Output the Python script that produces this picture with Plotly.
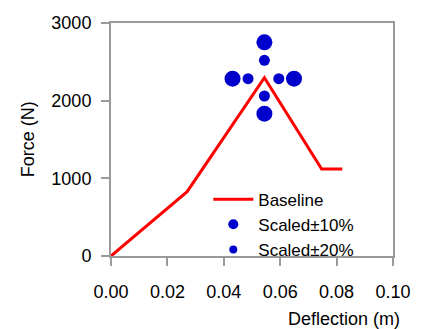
import plotly.graph_objects as go

# Baseline curve
base_x = [0.0, 0.027, 0.0544, 0.0747, 0.082]
base_y = [0, 828, 2295, 1120, 1120]

# Scaled ±10% points
s10_x = [0.0544, 0.0544, 0.0486, 0.0595]
s10_y = [2520, 2060, 2283, 2283]

# Scaled ±20% points
s20_x = [0.0544, 0.0544, 0.0431, 0.0649]
s20_y = [2751, 1832, 2283, 2283]

x_ticks = [0.00, 0.02, 0.04, 0.06, 0.08, 0.10]
y_ticks = [0, 1000, 2000, 3000]

FONT = "Liberation Sans, Arial, sans-serif"
BLUE = "#0000CC"
GRID = "#9a9a9a"

fig = go.Figure()
fig.add_trace(go.Scatter(x=base_x, y=base_y, mode="lines", name="Baseline",
                         line=dict(color="#FF0000", width=3)))
fig.add_trace(go.Scatter(x=s10_x, y=s10_y, mode="markers", name="Scaled±10%",
                         marker=dict(color=BLUE, size=11), showlegend=False))
fig.add_trace(go.Scatter(x=s20_x, y=s20_y, mode="markers", name="Scaled±20%",
                         marker=dict(color=BLUE, size=16), showlegend=False))
# legend entries
fig.add_trace(go.Scatter(x=[None], y=[None], mode="markers", name="Scaled±10%",
                         marker=dict(color=BLUE, size=10)))
fig.add_trace(go.Scatter(x=[None], y=[None], mode="markers", name="Scaled±20%",
                         marker=dict(color=BLUE, size=8)))

axis_common = dict(showline=True, linecolor=GRID, linewidth=2, mirror=True,
                   ticks="outside", ticklen=8, tickwidth=1.5, tickcolor=GRID,
                   showgrid=False, zeroline=False,
                   tickfont=dict(family=FONT, size=18, color="#000"))

fig.update_xaxes(range=[0, 0.10], tickvals=x_ticks,
                 ticktext=[f"{v:.2f}" for v in x_ticks], ticklabelstandoff=10,
                 **axis_common)
fig.update_yaxes(range=[0, 3000], tickvals=y_ticks, ticklabelstandoff=6,
                 **axis_common)

fig.add_annotation(text="Deflection (m)", xref="paper", yref="paper",
                   x=1.032, y=-0.27, xanchor="right", yanchor="middle",
                   showarrow=False, font=dict(family=FONT, size=18, color="#000"))
fig.add_annotation(text="Force (N)", xref="paper", yref="paper",
                   x=-0.295, y=0.5, xanchor="center", yanchor="middle", textangle=-90,
                   showarrow=False, font=dict(family=FONT, size=18, color="#000"))

fig.update_layout(
    width=422, height=329,
    margin=dict(l=111, r=29, t=23, b=73),
    plot_bgcolor="white", paper_bgcolor="white",
    font=dict(family=FONT, size=18, color="#000"),
    legend=dict(x=0.345, y=-0.05, xanchor="left", yanchor="bottom",
                bgcolor="rgba(0,0,0,0)", font=dict(size=17),
                tracegroupgap=0, itemwidth=40),
)

fig.write_html("out.html", config={"displayModeBar": False},
               post_script="document.body.style.margin='0';")
